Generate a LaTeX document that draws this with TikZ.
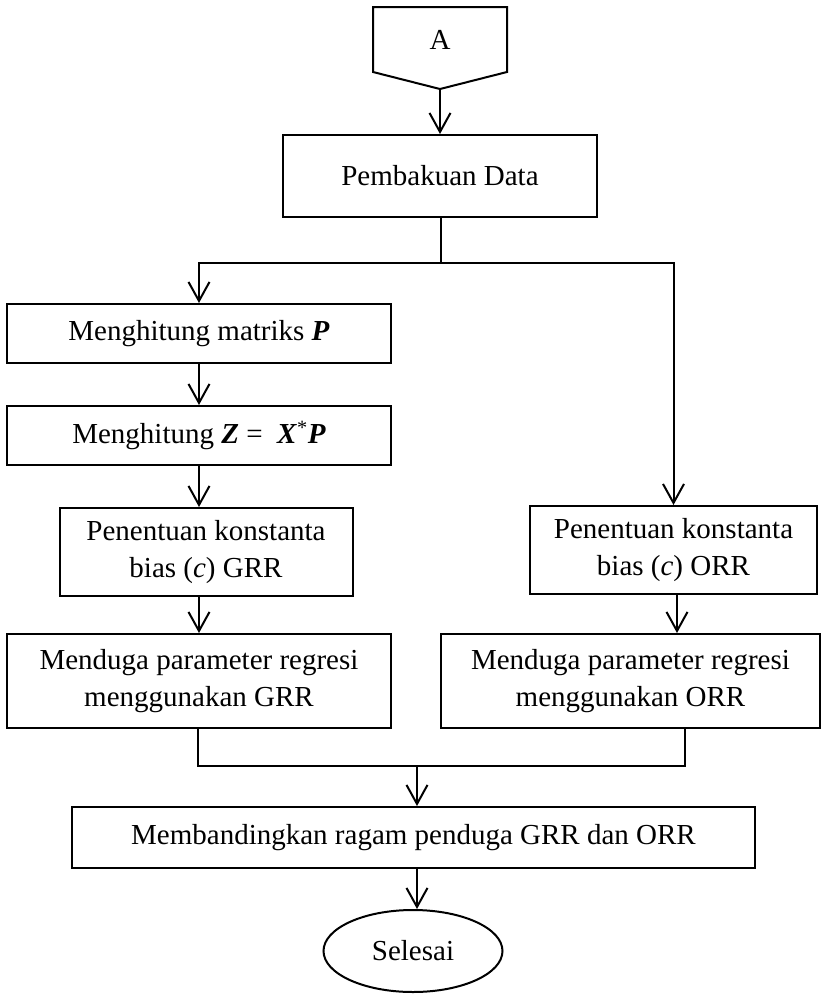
\documentclass[tikz,border=0pt]{standalone}
\usepackage{fontspec}
\setmainfont{Liberation Serif}
\usetikzlibrary{arrows.meta,shapes.geometric}
\tikzset{
  box/.style={draw, line width=2pt, inner sep=0pt, align=center, font=\fontsize{29}{37}\selectfont},
  arr/.style={line width=2pt, -{Straight Barb[length=19pt,width=21pt,line width=2pt]}},
  ln/.style={line width=2pt},
}
\newcommand{\bi}[1]{\textbf{\textit{#1}}}
\begin{document}
\begin{tikzpicture}[x=1pt,y=-1pt]
\useasboundingbox (0,0) rectangle (822,994);
% off-page connector A
\draw[ln, line join=miter] (373,7) -- (507,7) -- (507,72) -- (440,89) -- (373,72) -- cycle;
\node[font=\fontsize{29}{37}\selectfont] (A) at (440,40) {A};
\coordinate (Atip) at (440,89);
% boxes
\node[box, minimum width=314pt, minimum height=82pt] (pb) at (440,176) {Pembakuan Data};
\node[box, minimum width=384pt, minimum height=59pt] (mp) at (199,333.5) {Menghitung matriks \bi{P}};
\node[box, minimum width=384pt, minimum height=59pt] (mz) at (199,435.5) {Menghitung \bi{Z}\ =\ \ \bi{X}\textsuperscript{*}\bi{P}};
\node[box, minimum width=293pt, minimum height=88pt] (gc) at (206,552) {Penentuan konstanta\\bias (\textit{c}) GRR};
\node[box, minimum width=384pt, minimum height=94pt] (gd) at (199,681) {Menduga parameter regresi\\menggunakan GRR};
\node[box, minimum width=287pt, minimum height=88pt] (oc) at (673.5,550) {Penentuan konstanta\\bias (\textit{c}) ORR};
\node[box, minimum width=379pt, minimum height=94pt] (od) at (630.5,681) {Menduga parameter regresi\\menggunakan ORR};
\node[box, minimum width=683pt, minimum height=61pt] (mb) at (413.5,837.5) {Membandingkan ragam penduga GRR dan ORR};
\node[box, ellipse, minimum width=179pt, minimum height=82pt] (sl) at (413,951) {Selesai};
% connectors
\draw[arr] (Atip) -- (pb.north);
\coordinate (j1) at (441,263);
\draw[ln] (pb.south -| j1) -- (j1);
\draw[arr] (j1) -| (mp.north);
\draw[arr] (j1) -| (oc.north);
\draw[arr] (mp.south) -- (mz.north);
\draw[arr] (mz.south) -- (mz.south |- gc.north);
\draw[arr] (gc.south -| mz.south) -- (mz.south |- gd.north);
\coordinate (oj) at (677,0);
\draw[arr] (oc.south -| oj) -- (od.north -| oj);
\coordinate (gl) at (198,766);
\coordinate (or) at (685,766);
\draw[ln] (gd.south -| gl) -- (gl) -- (or) -- (od.south -| or);
\coordinate (j2) at (417,766);
\draw[arr] (j2) -- (mb.north -| j2);
\draw[arr] (mb.south -| j2) -- (sl.north -| j2);
\end{tikzpicture}
\end{document}
